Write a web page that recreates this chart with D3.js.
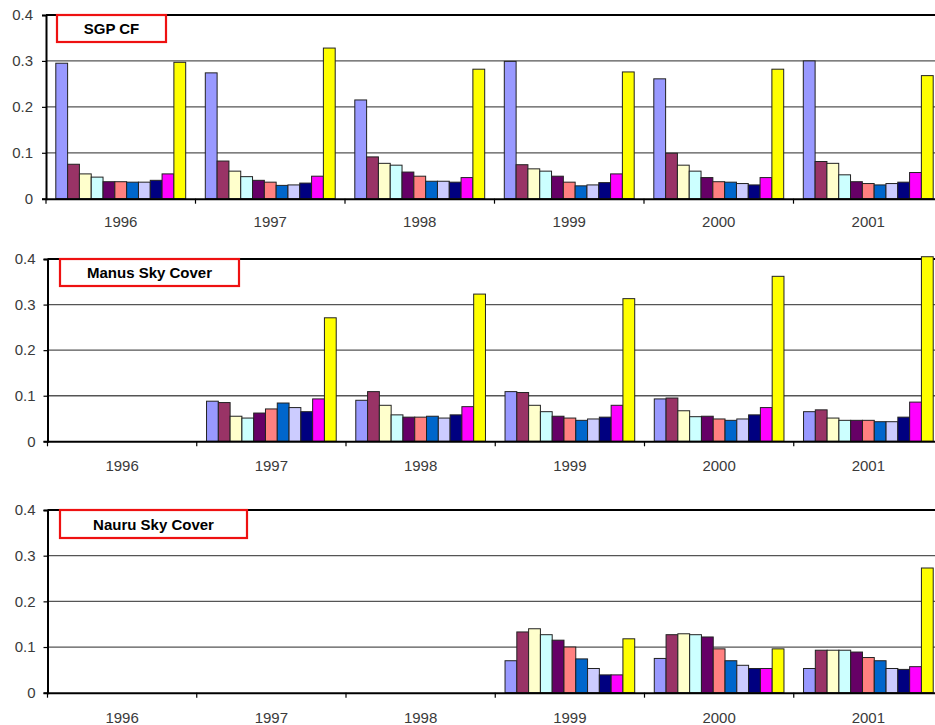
<!DOCTYPE html>
<html>
<head>
<meta charset="utf-8">
<script src="https://cdn.jsdelivr.net/npm/d3@7"></script>
<style>
  html, body { margin: 0; padding: 0; background: #fff; }
  svg { display: block; }
  text { font-family: Arial, "Liberation Sans", sans-serif; }
</style>
</head>
<body>
<svg id="chart" width="935" height="725"></svg>
<script>
// Cloud-fraction histogram bins (0.0 .. 1.0), one bar per bin inside each year
const bins = ["0.0","0.1","0.2","0.3","0.4","0.5","0.6","0.7","0.8","0.9","1.0"];
const years = ["1996","1997","1998","1999","2000","2001"];
const yTicks = [0, 0.1, 0.2, 0.3, 0.4];
const yTickLabels = ["0","0.1","0.2","0.3","0.4"];
const binColors = ["#9999FF","#993366","#FFFFCC","#CCFFFF","#660066","#FF8080",
                   "#0066CC","#CCCCFF","#000080","#FF00FF","#FFFF00"];

// Frequency per bin, one row per year (null = no data)
const sgp = [
  [0.295,0.075,0.054,0.047,0.037,0.037,0.036,0.036,0.040,0.054,0.297],
  [0.274,0.082,0.060,0.048,0.040,0.036,0.029,0.030,0.034,0.049,0.328],
  [0.215,0.091,0.077,0.073,0.058,0.049,0.038,0.038,0.036,0.046,0.282],
  [0.299,0.074,0.065,0.060,0.049,0.036,0.028,0.030,0.035,0.054,0.276],
  [0.261,0.099,0.073,0.060,0.046,0.037,0.036,0.033,0.030,0.046,0.282],
  [0.300,0.081,0.077,0.052,0.037,0.033,0.030,0.033,0.036,0.057,0.268]
];
const manus = [
  null,
  [0.088,0.085,0.055,0.051,0.062,0.071,0.084,0.074,0.065,0.093,0.271],
  [0.090,0.109,0.079,0.058,0.053,0.053,0.055,0.051,0.058,0.076,0.323],
  [0.109,0.107,0.079,0.065,0.055,0.051,0.046,0.049,0.053,0.079,0.313],
  [0.093,0.095,0.067,0.054,0.055,0.049,0.046,0.049,0.058,0.074,0.362],
  [0.065,0.069,0.051,0.046,0.046,0.046,0.043,0.043,0.053,0.086,0.405]
];
const nauru = [
  null,
  null,
  null,
  [0.070,0.133,0.140,0.127,0.115,0.100,0.074,0.053,0.039,0.039,0.118],
  [0.075,0.127,0.129,0.127,0.122,0.096,0.070,0.060,0.053,0.053,0.096],
  [0.053,0.093,0.093,0.093,0.089,0.077,0.070,0.053,0.051,0.057,0.273]
];

const panels = [
  { title: "SGP CF",          data: sgp,   left: 46,   top: 15,  bottom: 198.7, box: [57, 15, 109, 27],  labelGap: 13, yearPad: 18 },
  { title: "Manus Sky Cover", data: manus, left: 47.5, top: 259, bottom: 441.3, box: [60, 259, 179, 27], labelGap: 12, yearPad: 19 },
  { title: "Nauru Sky Cover", data: nauru, left: 47.5, top: 510, bottom: 692.7, box: [60, 510, 187, 28], labelGap: 12, yearPad: 19.5 }
];
const right = 943;
const textGrey = "#3a3a3a";

const svg = d3.select("#chart");

panels.forEach(p => {
  const g = svg.append("g");

  const x = d3.scaleBand().domain(years).range([p.left, right]).paddingInner(0).paddingOuter(0);
  const xi = d3.scaleBand().domain(bins).range([0, x.bandwidth()]).paddingInner(0).paddingOuter(0.83);
  const y = d3.scaleLinear().domain([0, 0.4]).range([p.bottom, p.top]);

  // horizontal gridlines
  g.append("g").selectAll("line")
    .data(yTicks.filter(v => v > 0 && v < 0.4))
    .join("line")
    .attr("x1", p.left).attr("x2", right)
    .attr("y1", d => y(d)).attr("y2", d => y(d))
    .attr("stroke", "#555").attr("stroke-width", 1.3);
  // top edge of the plot area
  g.append("line")
    .attr("x1", p.left).attr("x2", right)
    .attr("y1", y(0.4)).attr("y2", y(0.4))
    .attr("stroke", "#000").attr("stroke-width", 2);

  // bars
  years.forEach((yr, i) => {
    const row = p.data[i];
    if (!row) return;
    g.append("g")
      .attr("transform", `translate(${x(yr)},0)`)
      .selectAll("rect")
      .data(row.map((v, k) => ({ bin: bins[k], v, c: binColors[k] })))
      .join("rect")
      .attr("x", d => xi(d.bin))
      .attr("width", xi.bandwidth())
      .attr("y", d => y(d.v))
      .attr("height", d => y(0) - y(d.v))
      .attr("fill", d => d.c)
      .attr("stroke", "#222")
      .attr("stroke-width", 1);
  });

  // y axis
  const yAxis = d3.axisLeft(y).tickValues(yTicks)
    .tickFormat((d, i) => yTickLabels[i]).tickSize(4).tickPadding(p.labelGap - 4);
  const ya = g.append("g").attr("transform", `translate(${p.left},0)`).call(yAxis);
  ya.select(".domain").attr("stroke", "#000").attr("stroke-width", 2);
  ya.selectAll(".tick line").attr("stroke", "#000").attr("stroke-width", 1.2);
  ya.selectAll(".tick text").attr("font-size", 15).attr("fill", textGrey)
    .attr("font-family", "Arial, 'Liberation Sans', sans-serif");

  // x axis
  const xAxis = d3.axisBottom(x).tickSize(0).tickPadding(p.yearPad);
  const xa = g.append("g").attr("transform", `translate(0,${p.bottom})`).call(xAxis);
  xa.select(".domain").attr("stroke", "#000").attr("stroke-width", 2);
  xa.selectAll(".tick text").attr("font-size", 15).attr("fill", textGrey)
    .attr("font-family", "Arial, 'Liberation Sans', sans-serif");
  // category separator ticks
  xa.append("g").selectAll("line")
    .data(years.map(yr => x(yr)))
    .join("line")
    .attr("x1", d => d).attr("x2", d => d)
    .attr("y1", 0).attr("y2", 5)
    .attr("stroke", "#000").attr("stroke-width", 1.2);

  // title box
  const [bx, by, bw, bh] = p.box;
  g.append("rect")
    .attr("x", bx).attr("y", by).attr("width", bw).attr("height", bh)
    .attr("fill", "#fff").attr("stroke", "#ee1111").attr("stroke-width", 2.2);
  g.append("text")
    .attr("x", bx + bw / 2).attr("y", by + bh / 2)
    .attr("text-anchor", "middle").attr("dominant-baseline", "central")
    .attr("font-size", 15).attr("font-weight", "bold").attr("fill", "#000")
    .text(p.title);
});
</script>
</body>
</html>
